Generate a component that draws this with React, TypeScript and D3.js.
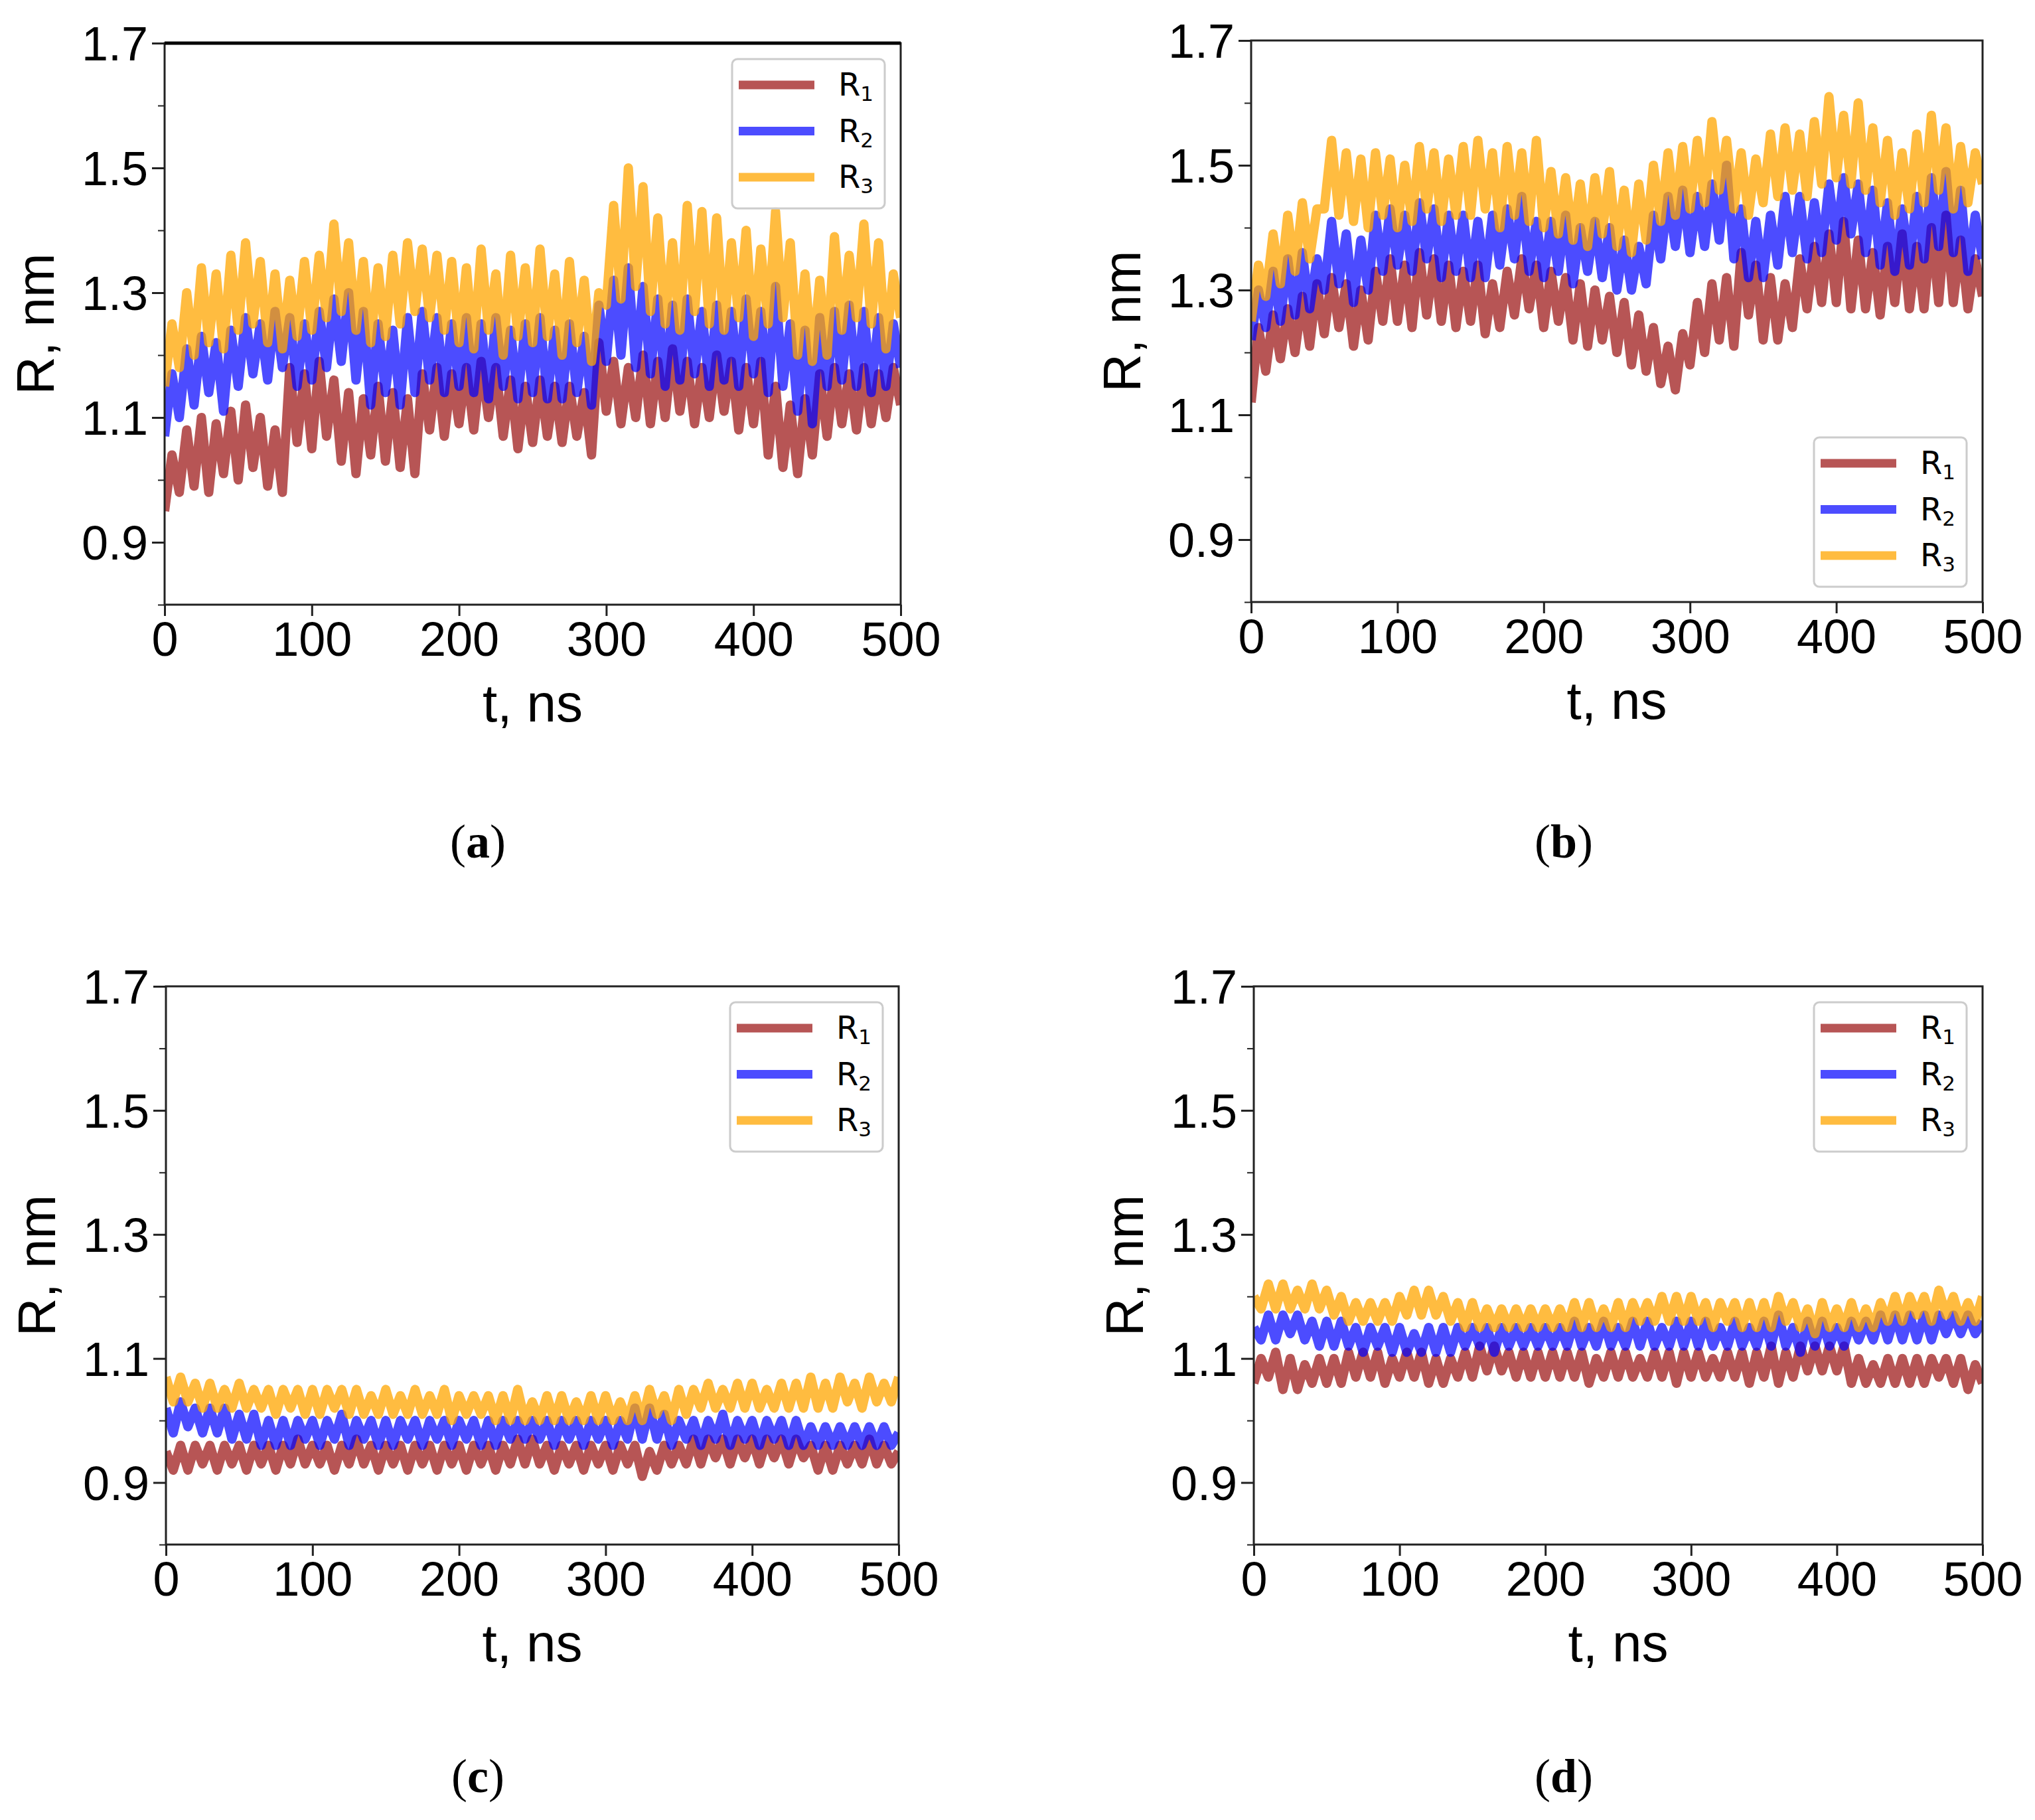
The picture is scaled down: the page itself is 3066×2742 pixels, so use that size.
import React, { useEffect, useRef } from 'react';
import * as d3 from 'd3';

// sampling grid of the traces, ns
const times = d3.range(0, 501, 5);

const xTicks = [0, 100, 200, 300, 400, 500];
const yMajorTicks = [0.9, 1.1, 1.3, 1.5, 1.7];
const yMinorTicks = [0.8, 1.0, 1.2, 1.4, 1.6];
const seriesNames = ['R', 'R', 'R'];
const seriesSubs = ['1', '2', '3'];
const panelLetters = ['a', 'b', 'c', 'd'];

// (a)
const aR1 = [
  0.95, 1.04, 0.98, 1.08, 0.99, 1.10, 0.98, 1.09, 1.01, 1.11,
  1.00, 1.12, 1.02, 1.10, 0.99, 1.08, 0.98, 1.18, 1.06, 1.17,
  1.05, 1.19, 1.07, 1.16, 1.03, 1.14, 1.01, 1.13, 1.04, 1.15,
  1.03, 1.14, 1.02, 1.13, 1.01, 1.17, 1.08, 1.18, 1.07, 1.17,
  1.09, 1.18, 1.08, 1.19, 1.10, 1.18, 1.07, 1.16, 1.05, 1.15,
  1.06, 1.16, 1.07, 1.15, 1.06, 1.15, 1.07, 1.14, 1.04, 1.22,
  1.11, 1.19, 1.09, 1.18, 1.10, 1.20, 1.09, 1.19, 1.10, 1.21,
  1.11, 1.19, 1.09, 1.18, 1.10, 1.20, 1.11, 1.19, 1.08, 1.18,
  1.09, 1.19, 1.04, 1.15, 1.02, 1.12, 1.01, 1.13, 1.04, 1.17,
  1.07, 1.18, 1.09, 1.17, 1.08, 1.18, 1.09, 1.17, 1.10, 1.18,
  1.12,
];
const aR2 = [
  1.07, 1.17, 1.10, 1.21, 1.12, 1.23, 1.14, 1.22, 1.11, 1.24,
  1.15, 1.26, 1.17, 1.25, 1.16, 1.27, 1.18, 1.26, 1.15, 1.25,
  1.16, 1.27, 1.18, 1.29, 1.19, 1.30, 1.16, 1.27, 1.12, 1.25,
  1.14, 1.24, 1.12, 1.26, 1.14, 1.27, 1.16, 1.26, 1.14, 1.25,
  1.15, 1.26, 1.14, 1.25, 1.13, 1.26, 1.15, 1.24, 1.13, 1.25,
  1.14, 1.26, 1.13, 1.24, 1.13, 1.25, 1.14, 1.23, 1.12, 1.28,
  1.19, 1.32, 1.20, 1.34, 1.18, 1.31, 1.17, 1.29, 1.15, 1.28,
  1.16, 1.29, 1.17, 1.27, 1.15, 1.28, 1.16, 1.27, 1.15, 1.29,
  1.17, 1.27, 1.14, 1.31, 1.15, 1.25, 1.11, 1.24, 1.09, 1.26,
  1.15, 1.27, 1.16, 1.28, 1.15, 1.27, 1.14, 1.26, 1.15, 1.25,
  1.18,
];
const aR3 = [
  1.15, 1.25, 1.18, 1.30, 1.20, 1.34, 1.22, 1.33, 1.21, 1.36,
  1.24, 1.38, 1.25, 1.35, 1.22, 1.33, 1.21, 1.32, 1.23, 1.35,
  1.24, 1.36, 1.26, 1.41, 1.27, 1.38, 1.24, 1.35, 1.22, 1.34,
  1.23, 1.36, 1.25, 1.38, 1.27, 1.37, 1.26, 1.36, 1.24, 1.35,
  1.22, 1.34, 1.21, 1.37, 1.24, 1.33, 1.20, 1.36, 1.23, 1.34,
  1.22, 1.37, 1.23, 1.33, 1.20, 1.35, 1.22, 1.32, 1.19, 1.30,
  1.28, 1.44, 1.29, 1.50, 1.31, 1.47, 1.27, 1.42, 1.25, 1.38,
  1.24, 1.44, 1.27, 1.43, 1.25, 1.42, 1.24, 1.38, 1.26, 1.40,
  1.23, 1.37, 1.25, 1.43, 1.26, 1.38, 1.20, 1.33, 1.19, 1.32,
  1.20, 1.39, 1.24, 1.36, 1.26, 1.41, 1.25, 1.38, 1.21, 1.33,
  1.26,
];

// (b)
const bR1 = [
  1.12, 1.24, 1.17, 1.26, 1.19, 1.27, 1.20, 1.29, 1.21, 1.31,
  1.23, 1.32, 1.24, 1.31, 1.21, 1.30, 1.22, 1.33, 1.25, 1.35,
  1.25, 1.34, 1.24, 1.36, 1.26, 1.35, 1.25, 1.34, 1.24, 1.33,
  1.25, 1.34, 1.23, 1.31, 1.24, 1.33, 1.26, 1.35, 1.27, 1.34,
  1.24, 1.33, 1.25, 1.32, 1.22, 1.31, 1.21, 1.30, 1.22, 1.29,
  1.20, 1.28, 1.18, 1.26, 1.17, 1.24, 1.15, 1.21, 1.14, 1.23,
  1.18, 1.28, 1.20, 1.31, 1.22, 1.32, 1.21, 1.36, 1.26, 1.34,
  1.22, 1.32, 1.22, 1.31, 1.24, 1.35, 1.27, 1.37, 1.28, 1.39,
  1.28, 1.41, 1.27, 1.38, 1.27, 1.36, 1.26, 1.37, 1.28, 1.39,
  1.27, 1.37, 1.27, 1.40, 1.28, 1.42, 1.28, 1.38, 1.27, 1.35,
  1.29,
];
const bR2 = [
  1.22, 1.30, 1.24, 1.33, 1.25, 1.35, 1.26, 1.36, 1.27, 1.35,
  1.30, 1.41, 1.31, 1.39, 1.28, 1.38, 1.30, 1.42, 1.33, 1.43,
  1.34, 1.42, 1.33, 1.44, 1.35, 1.43, 1.32, 1.42, 1.33, 1.42,
  1.32, 1.41, 1.32, 1.42, 1.34, 1.43, 1.35, 1.45, 1.33, 1.41,
  1.32, 1.41, 1.33, 1.42, 1.31, 1.40, 1.33, 1.41, 1.32, 1.40,
  1.30, 1.38, 1.30, 1.37, 1.31, 1.42, 1.35, 1.45, 1.37, 1.46,
  1.36, 1.45, 1.37, 1.47, 1.38, 1.50, 1.35, 1.43, 1.32, 1.41,
  1.32, 1.42, 1.34, 1.45, 1.36, 1.45, 1.35, 1.44, 1.36, 1.47,
  1.38, 1.48, 1.39, 1.47, 1.36, 1.46, 1.34, 1.44, 1.33, 1.43,
  1.34, 1.45, 1.35, 1.48, 1.37, 1.49, 1.36, 1.46, 1.33, 1.42,
  1.35,
];
const bR3 = [
  1.25, 1.34, 1.29, 1.39, 1.31, 1.42, 1.33, 1.44, 1.35, 1.43,
  1.43, 1.54, 1.42, 1.52, 1.41, 1.51, 1.40, 1.52, 1.42, 1.51,
  1.40, 1.50, 1.41, 1.53, 1.43, 1.52, 1.41, 1.51, 1.42, 1.53,
  1.42, 1.54, 1.43, 1.52, 1.40, 1.53, 1.42, 1.52, 1.41, 1.54,
  1.40, 1.49, 1.39, 1.48, 1.38, 1.47, 1.37, 1.48, 1.39, 1.49,
  1.37, 1.46, 1.36, 1.47, 1.38, 1.50, 1.41, 1.52, 1.42, 1.53,
  1.43, 1.54, 1.44, 1.57, 1.46, 1.54, 1.43, 1.52, 1.42, 1.51,
  1.44, 1.55, 1.45, 1.56, 1.46, 1.55, 1.45, 1.57, 1.47, 1.61,
  1.48, 1.58, 1.47, 1.60, 1.46, 1.56, 1.44, 1.54, 1.42, 1.52,
  1.43, 1.55, 1.44, 1.58, 1.46, 1.56, 1.43, 1.53, 1.44, 1.52,
  1.47,
];

// (c)
const cR1 = [
  0.95, 0.92, 0.96, 0.92, 0.96, 0.93, 0.96, 0.92, 0.96, 0.93,
  0.96, 0.92, 0.96, 0.93, 0.96, 0.92, 0.96, 0.93, 0.97, 0.93,
  0.96, 0.93, 0.96, 0.92, 0.96, 0.93, 0.97, 0.93, 0.96, 0.92,
  0.96, 0.93, 0.96, 0.92, 0.96, 0.93, 0.96, 0.92, 0.96, 0.93,
  0.96, 0.92, 0.96, 0.93, 0.96, 0.92, 0.96, 0.93, 0.97, 0.93,
  0.97, 0.93, 0.96, 0.92, 0.96, 0.93, 0.96, 0.92, 0.96, 0.93,
  0.96, 0.92, 0.96, 0.93, 0.96, 0.91, 0.95, 0.92, 0.96, 0.93,
  0.96, 0.93, 0.97, 0.93, 0.97, 0.94, 0.97, 0.93, 0.97, 0.94,
  0.97, 0.93, 0.97, 0.94, 0.97, 0.93, 0.97, 0.94, 0.96, 0.92,
  0.96, 0.92, 0.96, 0.93, 0.96, 0.93, 0.97, 0.93, 0.96, 0.93,
  0.95,
];
const cR2 = [
  1.02, 0.98, 1.03, 0.99, 1.02, 0.98, 1.02, 0.98, 1.02, 0.97,
  1.01, 0.97, 1.01, 0.96, 1.00, 0.96, 1.00, 0.96, 1.00, 0.97,
  1.00, 0.96, 1.00, 0.97, 1.01, 0.96, 1.00, 0.97, 1.00, 0.96,
  1.00, 0.96, 1.00, 0.97, 1.00, 0.96, 1.00, 0.97, 1.00, 0.96,
  1.00, 0.97, 1.00, 0.96, 1.00, 0.96, 1.00, 0.97, 1.00, 0.97,
  1.00, 0.97, 1.00, 0.96, 1.00, 0.97, 1.00, 0.96, 1.00, 0.97,
  1.00, 0.96, 1.00, 0.97, 1.02, 0.97, 1.02, 0.97, 1.01, 0.96,
  1.00, 0.97, 1.00, 0.96, 1.00, 0.97, 1.01, 0.96, 1.00, 0.97,
  1.00, 0.96, 1.00, 0.97, 1.00, 0.96, 1.00, 0.96, 0.99, 0.96,
  0.99, 0.96, 0.99, 0.96, 0.99, 0.96, 0.99, 0.96, 0.99, 0.96,
  0.98,
];
const cR3 = [
  1.07, 1.03, 1.07, 1.03, 1.06, 1.02, 1.06, 1.02, 1.05, 1.02,
  1.06, 1.02, 1.05, 1.02, 1.05, 1.01, 1.05, 1.02, 1.05, 1.01,
  1.05, 1.01, 1.05, 1.02, 1.05, 1.01, 1.05, 1.01, 1.04, 1.01,
  1.05, 1.01, 1.04, 1.01, 1.05, 1.01, 1.04, 1.01, 1.05, 1.00,
  1.04, 1.01, 1.04, 1.01, 1.04, 1.00, 1.04, 1.00, 1.05, 1.00,
  1.03, 1.00, 1.04, 1.00, 1.04, 1.00, 1.03, 1.00, 1.04, 1.00,
  1.04, 1.00, 1.03, 1.00, 1.04, 1.00, 1.05, 1.01, 1.04, 1.00,
  1.05, 1.01, 1.05, 1.02, 1.06, 1.02, 1.05, 1.02, 1.06, 1.02,
  1.06, 1.02, 1.05, 1.02, 1.06, 1.02, 1.06, 1.02, 1.07, 1.02,
  1.06, 1.02, 1.07, 1.03, 1.06, 1.02, 1.07, 1.03, 1.06, 1.03,
  1.07,
];

// (d)
const dR1 = [
  1.06, 1.10, 1.07, 1.11, 1.05, 1.10, 1.05, 1.09, 1.06, 1.10,
  1.06, 1.10, 1.06, 1.11, 1.07, 1.11, 1.07, 1.11, 1.06, 1.10,
  1.07, 1.11, 1.07, 1.11, 1.06, 1.10, 1.06, 1.10, 1.07, 1.11,
  1.07, 1.12, 1.08, 1.12, 1.08, 1.11, 1.07, 1.11, 1.07, 1.11,
  1.07, 1.11, 1.07, 1.11, 1.07, 1.11, 1.06, 1.10, 1.07, 1.11,
  1.07, 1.11, 1.07, 1.10, 1.07, 1.11, 1.07, 1.11, 1.06, 1.11,
  1.07, 1.11, 1.07, 1.10, 1.07, 1.11, 1.07, 1.11, 1.06, 1.11,
  1.07, 1.12, 1.06, 1.11, 1.07, 1.12, 1.08, 1.12, 1.08, 1.12,
  1.08, 1.12, 1.06, 1.10, 1.06, 1.09, 1.06, 1.10, 1.06, 1.10,
  1.06, 1.10, 1.06, 1.10, 1.07, 1.10, 1.06, 1.10, 1.05, 1.09,
  1.06,
];
const dR2 = [
  1.15, 1.13, 1.17, 1.13, 1.17, 1.14, 1.17, 1.13, 1.16, 1.12,
  1.16, 1.12, 1.16, 1.12, 1.15, 1.11, 1.15, 1.12, 1.15, 1.11,
  1.15, 1.11, 1.14, 1.11, 1.15, 1.11, 1.15, 1.11, 1.15, 1.12,
  1.15, 1.12, 1.15, 1.11, 1.15, 1.12, 1.15, 1.12, 1.15, 1.12,
  1.15, 1.12, 1.15, 1.12, 1.16, 1.12, 1.15, 1.12, 1.16, 1.12,
  1.15, 1.12, 1.16, 1.12, 1.16, 1.12, 1.15, 1.12, 1.16, 1.12,
  1.16, 1.12, 1.16, 1.12, 1.15, 1.12, 1.16, 1.12, 1.15, 1.12,
  1.16, 1.12, 1.17, 1.12, 1.15, 1.11, 1.16, 1.12, 1.16, 1.12,
  1.15, 1.12, 1.16, 1.13, 1.16, 1.13, 1.17, 1.13, 1.17, 1.13,
  1.17, 1.13, 1.17, 1.13, 1.17, 1.14, 1.17, 1.14, 1.17, 1.14,
  1.16,
];
const dR3 = [
  1.20, 1.18, 1.22, 1.18, 1.22, 1.18, 1.21, 1.18, 1.22, 1.18,
  1.21, 1.17, 1.20, 1.16, 1.19, 1.16, 1.19, 1.16, 1.19, 1.16,
  1.20, 1.17, 1.21, 1.17, 1.21, 1.17, 1.20, 1.16, 1.19, 1.15,
  1.19, 1.15, 1.18, 1.15, 1.18, 1.15, 1.18, 1.15, 1.18, 1.15,
  1.18, 1.15, 1.18, 1.15, 1.19, 1.15, 1.19, 1.15, 1.18, 1.15,
  1.19, 1.15, 1.19, 1.16, 1.19, 1.16, 1.20, 1.16, 1.20, 1.16,
  1.20, 1.16, 1.19, 1.15, 1.19, 1.16, 1.19, 1.15, 1.19, 1.15,
  1.19, 1.15, 1.20, 1.16, 1.19, 1.15, 1.18, 1.14, 1.19, 1.15,
  1.18, 1.15, 1.19, 1.15, 1.18, 1.15, 1.19, 1.16, 1.20, 1.16,
  1.20, 1.17, 1.20, 1.16, 1.21, 1.17, 1.20, 1.16, 1.19, 1.16,
  1.20,
];

const panelSeries = [
  [aR1, aR2, aR3],
  [bR1, bR2, bR3],
  [cR1, cR2, cR3],
  [dR1, dR2, dR3],
];

const seriesColors = ['#a52a2a', '#0000ff', '#ffa500'];
const seriesAlpha = [0.8, 0.7, 0.75];

const W = 3066;
const H = 2742;

// pixel layout of each panel
const layouts = [
  { left: 248, right: 1357, top: 65, bottom: 911, legend: 'top', labelX: 720, labelY: 1292 },
  { left: 1885, right: 2987, top: 61, bottom: 907, legend: 'bottom', labelX: 2356, labelY: 1292 },
  { left: 250, right: 1354, top: 1486, bottom: 2327, legend: 'top', labelX: 720, labelY: 2700 },
  { left: 1889, right: 2987, top: 1486, bottom: 2327, legend: 'top', labelX: 2356, labelY: 2700 },
];

const sansFont = '"Liberation Sans", Arial, sans-serif';
const legendFont = '"DejaVu Sans", sans-serif';
const serifFont = '"Liberation Serif", "Times New Roman", serif';

export default function App() {
  const svgRef = useRef<SVGSVGElement>(null);

  useEffect(() => {
    if (!svgRef.current) return;
    const svg = d3.select(svgRef.current);
    svg.selectAll('*').remove();

    svg.append('rect').attr('width', W).attr('height', H).attr('fill', '#fff');

    layouts.forEach((lay, pi) => {
      const g = svg.append('g');
      const x = d3.scaleLinear().domain([0, 500]).range([lay.left, lay.right]);
      const y = d3.scaleLinear().domain([0.8, 1.7]).range([lay.bottom, lay.top]);

      const clipId = `clip-${pi}`;
      g.append('clipPath')
        .attr('id', clipId)
        .append('rect')
        .attr('x', lay.left)
        .attr('y', lay.top)
        .attr('width', lay.right - lay.left)
        .attr('height', lay.bottom - lay.top);

      const line = d3
        .line<number>()
        .x((_, i) => x(times[i]))
        .y(d => y(d));

      // thick strokes so the noisy traces read as bands
      const traces = g.append('g').attr('clip-path', `url(#${clipId})`);
      panelSeries[pi].forEach((values, si) => {
        traces
          .append('path')
          .datum(values)
          .attr('fill', 'none')
          .attr('stroke', seriesColors[si])
          .attr('stroke-opacity', seriesAlpha[si])
          .attr('stroke-width', 14)
          .attr('stroke-linejoin', 'round')
          .attr('d', line);
      });

      // frame
      g.append('rect')
        .attr('x', lay.left)
        .attr('y', lay.top)
        .attr('width', lay.right - lay.left)
        .attr('height', lay.bottom - lay.top)
        .attr('fill', 'none')
        .attr('stroke', '#222')
        .attr('stroke-width', 3);
      if (pi === 0) {
        g.append('line')
          .attr('x1', lay.left)
          .attr('x2', lay.right)
          .attr('y1', lay.top)
          .attr('y2', lay.top)
          .attr('stroke', '#000')
          .attr('stroke-width', 5);
      }

      // x axis
      const xAxis = g
        .append('g')
        .attr('transform', `translate(0,${lay.bottom})`)
        .call(d3.axisBottom(x).tickValues(xTicks).tickSize(17).tickPadding(9).tickFormat(d3.format('d')));
      xAxis.select('.domain').remove();
      xAxis.selectAll('.tick line').attr('stroke', '#222').attr('stroke-width', 3);
      xAxis
        .selectAll('.tick text')
        .attr('fill', '#000')
        .attr('font-size', 72)
        .attr('font-family', sansFont);

      // y axis, major and minor
      const yAxis = g
        .append('g')
        .attr('transform', `translate(${lay.left},0)`)
        .call(d3.axisLeft(y).tickValues(yMajorTicks).tickSize(19).tickPadding(6).tickFormat(d3.format('.1f')));
      yAxis.select('.domain').remove();
      yAxis.selectAll('.tick line').attr('stroke', '#222').attr('stroke-width', 3);
      yAxis
        .selectAll('.tick text')
        .attr('fill', '#000')
        .attr('dy', '0.36em')
        .attr('font-size', 72)
        .attr('font-family', sansFont);

      const yMinor = g
        .append('g')
        .attr('transform', `translate(${lay.left},0)`)
        .call(d3.axisLeft(y).tickValues(yMinorTicks).tickSize(10).tickFormat(() => ''));
      yMinor.select('.domain').remove();
      yMinor.selectAll('.tick line').attr('stroke', '#222').attr('stroke-width', 2);

      // axis titles
      g.append('text')
        .attr('x', (lay.left + lay.right) / 2)
        .attr('y', lay.bottom + 176)
        .attr('text-anchor', 'middle')
        .attr('font-size', 80)
        .attr('font-family', sansFont)
        .attr('fill', '#000')
        .text('t, ns');

      g.append('text')
        .attr('transform', `translate(${lay.left - 167},${(lay.top + lay.bottom) / 2}) rotate(-90)`)
        .attr('text-anchor', 'middle')
        .attr('font-size', 80)
        .attr('font-family', sansFont)
        .attr('fill', '#000')
        .text('R, nm');

      // legend
      const boxW = 230;
      const boxH = 225;
      const bx = lay.right - 24 - boxW;
      const by = lay.legend === 'top' ? lay.top + 24 : lay.bottom - 23 - boxH;
      const legend = g.append('g').attr('transform', `translate(${bx},${by})`);
      legend
        .append('rect')
        .attr('width', boxW)
        .attr('height', boxH)
        .attr('rx', 8)
        .attr('fill', '#fff')
        .attr('fill-opacity', 0.85)
        .attr('stroke', '#cccccc')
        .attr('stroke-width', 3);
      seriesNames.forEach((name, si) => {
        const ry = 39 + si * 69.5;
        legend
          .append('line')
          .attr('x1', 10)
          .attr('x2', 124)
          .attr('y1', ry)
          .attr('y2', ry)
          .attr('stroke', seriesColors[si])
          .attr('stroke-opacity', seriesAlpha[si])
          .attr('stroke-width', 13);
        const t = legend
          .append('text')
          .attr('x', 160)
          .attr('y', ry + 16)
          .attr('font-family', legendFont)
          .attr('font-size', 48)
          .attr('fill', '#000');
        t.append('tspan').text(name);
        t.append('tspan').attr('dy', 8).attr('font-size', 31).text(seriesSubs[si]);
      });

      // subplot label
      const lbl = svg
        .append('text')
        .attr('x', lay.labelX)
        .attr('y', lay.labelY)
        .attr('text-anchor', 'middle')
        .attr('font-family', serifFont)
        .attr('font-size', 72)
        .attr('fill', '#000');
      lbl.append('tspan').text('(');
      lbl.append('tspan').attr('font-weight', 'bold').text(panelLetters[pi]);
      lbl.append('tspan').text(')');
    });
  }, []);

  return (
    <svg
      ref={svgRef}
      width={W}
      height={H}
      style={{ position: 'absolute', left: 0, top: 0, display: 'block' }}
    ></svg>
  );
}
